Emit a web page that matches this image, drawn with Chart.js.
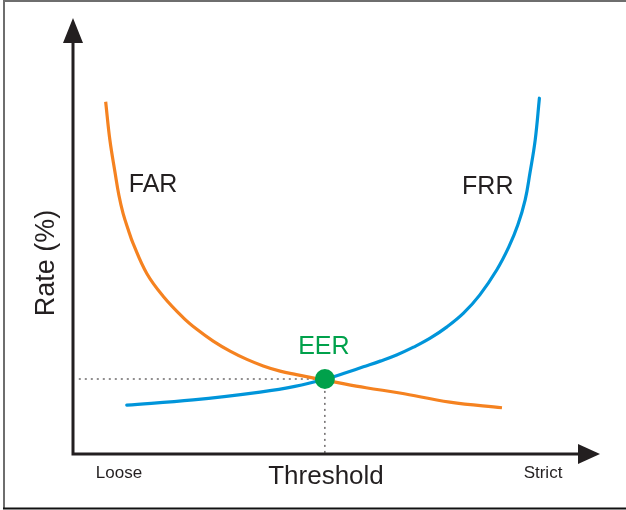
<!DOCTYPE html>
<html>
<head>
<meta charset="utf-8">
<script src="https://cdn.jsdelivr.net/npm/chart.js@4"></script>
<style>
  html, body { margin: 0; padding: 0; background: #fff; }
  #wrap { width: 626px; height: 510px; position: relative; }
</style>
</head>
<body>
<div id="wrap"><canvas id="eer-chart"></canvas></div>
<script>
// threshold (0 = loose, 100 = strict) vs rate (%)
var farX = [6.2, 7.0, 8.0, 8.7, 9.5, 10.5, 11.4, 14.0, 17.1, 20.9, 23.5, 26.6, 29.8, 33.0, 36.1, 39.3, 42.4, 46.2, 49.3, 55.6, 62.0, 71.5, 81.4];
var farY = [80.8, 72.0, 64.4, 59.4, 55.2, 51.4, 48.3, 41.4, 36.2, 31.3, 28.6, 25.9, 23.6, 21.7, 20.2, 19.0, 18.2, 17.3, 16.6, 15.2, 14.0, 11.9, 10.6];

var frrX = [10.2, 22.8, 35.5, 42.1, 48.8, 51.9, 55.1, 58.3, 61.4, 64.6, 67.7, 70.9, 74.1, 77.2, 80.4, 82.7, 84.4, 85.8, 86.7, 87.7, 88.5];
var frrY = [11.2, 12.4, 14.2, 15.5, 17.5, 18.7, 20.0, 21.3, 22.7, 24.5, 26.5, 29.1, 32.3, 36.5, 42.2, 47.5, 52.5, 58.3, 64.4, 72.0, 81.6];

var eerX = 47.8;
var eerY = 17.2;

var curveLabels = ['FAR', 'FRR', 'EER'];
var labelPos = [[15.2, 61.7], [78.7, 61.2], [47.6, 24.5]];
var xEnds = ['Loose', 'Strict'];

function toPoints(xs, ys) {
  return xs.map(function(x, i) { return {x: x, y: ys[i]}; });
}

var ink = '#231f20';
var font = '"Liberation Sans", Arial, Helvetica, sans-serif';

var diagram = {
  id: 'diagram',
  beforeDraw: function(chart) {
    var ctx = chart.ctx;
    ctx.save();
    // frame
    ctx.lineWidth = 2;
    ctx.strokeStyle = '#6e6e6e';
    ctx.beginPath();
    ctx.moveTo(3, 1); ctx.lineTo(626, 1);
    ctx.moveTo(4, 1); ctx.lineTo(4, 508);
    ctx.stroke();
    ctx.strokeStyle = '#111';
    ctx.beginPath();
    ctx.moveTo(3, 508.5); ctx.lineTo(626, 508.5);
    ctx.stroke();
    ctx.restore();
  },
  afterDraw: function(chart) {
    var ctx = chart.ctx;
    var a = chart.chartArea;
    var xs = chart.scales.x, ys = chart.scales.y;
    ctx.save();
    // axes with arrows
    ctx.strokeStyle = ink;
    ctx.fillStyle = ink;
    ctx.lineWidth = 3;
    ctx.beginPath();
    ctx.moveTo(a.left, a.bottom + 1.5);
    ctx.lineTo(a.left, a.top + 24);
    ctx.moveTo(a.left - 1.5, a.bottom);
    ctx.lineTo(a.right - 22, a.bottom);
    ctx.stroke();
    ctx.beginPath();
    ctx.moveTo(a.left, a.top);
    ctx.lineTo(a.left - 10, a.top + 25);
    ctx.lineTo(a.left + 10, a.top + 25);
    ctx.closePath();
    ctx.fill();
    ctx.beginPath();
    ctx.moveTo(a.right, a.bottom);
    ctx.lineTo(a.right - 22, a.bottom - 10);
    ctx.lineTo(a.right - 22, a.bottom + 10);
    ctx.closePath();
    ctx.fill();

    // curve labels
    ctx.textAlign = 'center';
    ctx.textBaseline = 'middle';
    ctx.font = '25px ' + font;
    for (var i = 0; i < curveLabels.length; i++) {
      ctx.fillStyle = curveLabels[i] === 'EER' ? '#00a14b' : ink;
      ctx.fillText(curveLabels[i], xs.getPixelForValue(labelPos[i][0]), ys.getPixelForValue(labelPos[i][1]));
    }

    // axis titles
    ctx.fillStyle = ink;
    ctx.font = '26px ' + font;
    ctx.fillText('Threshold', 326, 477);
    ctx.font = '17px ' + font;
    ctx.fillText(xEnds[0], 119, 473);
    ctx.fillText(xEnds[1], 543, 473);
    ctx.translate(47, 263);
    ctx.rotate(-Math.PI / 2);
    ctx.font = '27px ' + font;
    ctx.fillText('Rate (%)', 0, 0);
    ctx.restore();
  }
};

// datasets are painted last-to-first, so the EER dot comes first
var chart = new Chart(document.getElementById('eer-chart'), {
  type: 'scatter',
  data: {
    datasets: [
      {
        label: 'EER',
        data: [{x: eerX, y: eerY}],
        pointRadius: 10,
        pointBackgroundColor: '#00a14b',
        pointBorderWidth: 0
      },
      {
        label: 'FAR',
        data: toPoints(farX, farY),
        showLine: true,
        borderColor: '#f58220',
        borderWidth: 3.2,
        pointRadius: 0,
        tension: 0.4
      },
      {
        label: 'FRR',
        data: toPoints(frrX, frrY),
        showLine: true,
        borderColor: '#0095da',
        borderWidth: 3.2,
        pointRadius: 0,
        tension: 0.4,
        borderCapStyle: 'round'
      },
      {
        label: 'guide',
        data: [{x: 1.1, y: eerY}, {x: eerX, y: eerY}, {x: eerX, y: 0}],
        showLine: true,
        borderColor: ink,
        borderWidth: 1,
        borderDash: [2, 4],
        pointRadius: 0,
        tension: 0
      }
    ]
  },
  options: {
    responsive: true,
    maintainAspectRatio: false,
    animation: false,
    layout: { padding: { left: 73, right: 26, top: 18, bottom: 56 } },
    plugins: { legend: { display: false }, tooltip: { enabled: false } },
    scales: {
      x: { type: 'linear', min: 0, max: 100, display: false },
      y: { type: 'linear', min: 0, max: 100, display: false }
    }
  },
  plugins: [diagram]
});
</script>
</body>
</html>
